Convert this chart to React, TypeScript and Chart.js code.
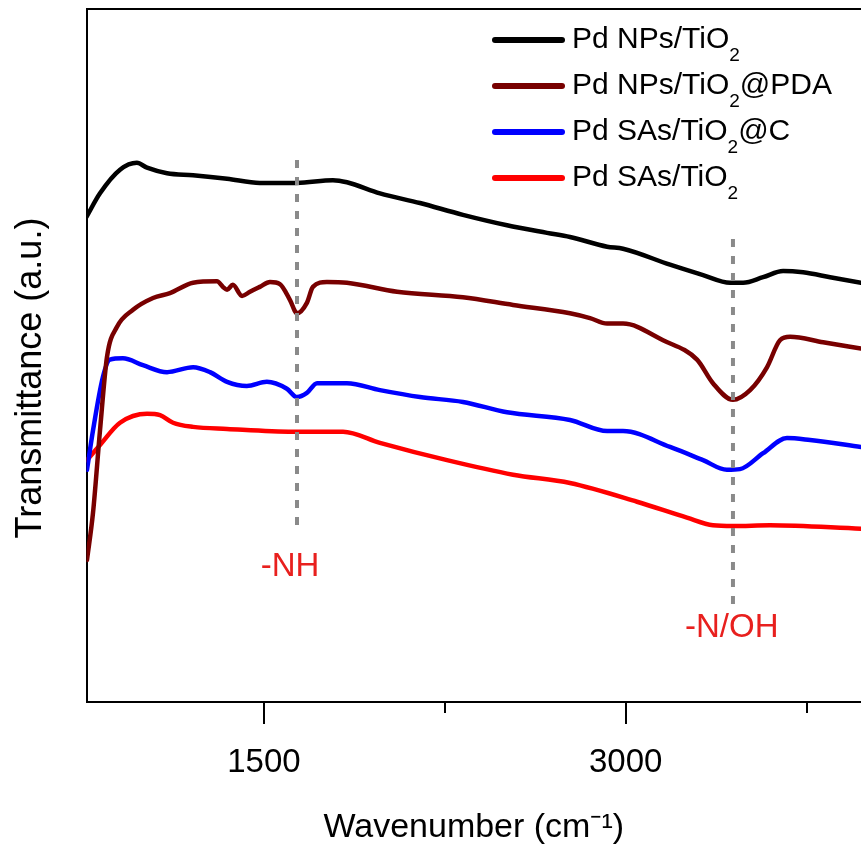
import React, { useEffect, useRef } from 'react';
import { Chart, registerables } from 'chart.js';

Chart.register(...registerables);

const FONT = "'Liberation Sans', Arial, sans-serif";

// Series labels and colours
const seriesLabels = ['Pd NPs/TiO₂', 'Pd NPs/TiO₂@PDA', 'Pd SAs/TiO₂@C', 'Pd SAs/TiO₂'];
const seriesColors = ['#000000', '#780000', '#0000ff', '#ff0000'];

// Pd NPs/TiO2 (black)
const npsWavenumber = [764, 820, 903, 973, 1015, 1098, 1206, 1347, 1483, 1637, 1786, 1844, 1981, 2147, 2325, 2508, 2674, 2769, 2923, 2989, 3184, 3321, 3433, 3487, 3570, 3653, 3736, 3848, 3976];
const npsTransmittance = [70.0, 73.4, 76.8, 77.8, 77.1, 76.3, 76.0, 75.5, 74.9, 74.9, 75.3, 75.0, 73.4, 72.0, 70.3, 68.8, 67.7, 67.1, 65.7, 65.4, 63.1, 61.6, 60.5, 60.5, 61.3, 62.2, 62.0, 61.3, 60.5];

// Pd NPs/TiO2@PDA (maroon)
const npsPdaWavenumber = [766, 791, 820, 849, 890, 957, 1040, 1110, 1206, 1305, 1330, 1347, 1371, 1409, 1442, 1483, 1525, 1566, 1608, 1637, 1678, 1703, 1761, 1844, 2052, 2325, 2533, 2769, 2852, 2923, 2989, 3155, 3296, 3362, 3445, 3516, 3586, 3640, 3682, 3819, 3976];
const npsPdaTransmittance = [20.5, 27.3, 39.2, 49.8, 54.1, 56.6, 58.3, 59.0, 60.5, 60.7, 59.9, 59.5, 60.2, 58.6, 59.2, 59.9, 60.6, 60.3, 58.0, 56.1, 57.6, 59.9, 60.6, 60.5, 59.2, 58.4, 57.3, 56.1, 55.4, 54.6, 54.6, 52.2, 49.4, 46.0, 43.6, 45.0, 48.3, 52.2, 52.7, 51.9, 51.0];

// Pd SAs/TiO2@C (blue)
const sasCWavenumber = [766, 791, 832, 861, 915, 998, 1098, 1206, 1276, 1347, 1429, 1512, 1595, 1637, 1678, 1720, 1844, 1981, 2147, 2325, 2508, 2769, 2923, 2989, 3184, 3321, 3420, 3474, 3570, 3669, 3765, 3976];
const sasCTransmittance = [33.5, 39.2, 46.9, 49.4, 49.6, 48.6, 47.6, 48.3, 47.6, 46.2, 45.6, 46.2, 45.2, 44.0, 44.6, 46.0, 46.0, 45.0, 44.0, 43.3, 41.8, 40.7, 39.1, 39.1, 36.8, 34.9, 33.5, 33.6, 35.9, 38.1, 37.8, 36.8];

// Pd SAs/TiO2 (red)
const sasWavenumber = [766, 820, 903, 1015, 1069, 1123, 1206, 1347, 1620, 1828, 1981, 2259, 2533, 2769, 3047, 3254, 3362, 3445, 3599, 3976];
const sasTransmittance = [34.9, 37.1, 40.3, 41.6, 41.4, 40.3, 39.7, 39.4, 39.0, 39.0, 37.4, 34.9, 32.8, 31.6, 28.9, 26.6, 25.5, 25.4, 25.5, 25.0];

// Marker (dashed) lines and their labels
const markerWavenumber = [1637, 3445];
const markerTop = [78.2, 66.8];
const markerBottom = [24.8, 14.0];
const markerLabels = ['-NH', '-N/OH'];
const markerLabelX = [1608, 3440];
const markerLabelY = [19.5, 10.7];

// Axes
const xMin = 764;
const xMax = 3976;
const xTickValues = [1500, 2250, 3000, 3750];
const xTickLabels = ['1500', '', '3000', ''];
const xTitle = 'Wavenumber (cm⁻¹)';
const yTitle = 'Transmittance (a.u.)';

function toPoints(xs: number[], ys: number[]) {
  return xs.map((x, i) => ({ x, y: ys[i] }));
}

function drawRich(ctx: CanvasRenderingContext2D, text: string, x: number, y: number, size: number) {
  let cx = x;
  const parts = text.split(/(₂)/);
  for (const p of parts) {
    if (!p) continue;
    if (p === '₂') {
      ctx.font = `${Math.round(size * 0.64)}px ${FONT}`;
      ctx.fillText('2', cx, y + size * 0.52);
      cx += ctx.measureText('2').width;
    } else {
      ctx.font = `${size}px ${FONT}`;
      ctx.fillText(p, cx, y);
      cx += ctx.measureText(p).width;
    }
  }
}

const decorPlugin = {
  id: 'decor',
  afterDraw(chart: any) {
    const ctx: CanvasRenderingContext2D = chart.ctx;
    const xs = chart.scales.x;
    const ys = chart.scales.y;
    const area = chart.chartArea;
    ctx.save();

    // tick marks (major labelled, minor unlabelled)
    ctx.strokeStyle = '#000';
    ctx.lineWidth = 2;
    xTickValues.forEach((v, i) => {
      const px = Math.round(xs.getPixelForValue(v));
      const len = xTickLabels[i] ? 22 : 11;
      ctx.beginPath();
      ctx.moveTo(px, area.bottom);
      ctx.lineTo(px, area.bottom + len);
      ctx.stroke();
    });

    // marker labels
    ctx.fillStyle = '#e8201e';
    ctx.font = `33px ${FONT}`;
    ctx.textAlign = 'center';
    ctx.textBaseline = 'middle';
    markerLabels.forEach((t, i) => {
      ctx.fillText(t, xs.getPixelForValue(markerLabelX[i]), ys.getPixelForValue(markerLabelY[i]));
    });

    // legend
    ctx.textAlign = 'left';
    ctx.fillStyle = '#000';
    const series = chart.data.datasets.filter((d: any) => !d.isMarker);
    series.forEach((d: any, i: number) => {
      const cy = 40 + i * 46;
      ctx.strokeStyle = d.borderColor;
      ctx.lineWidth = 6;
      ctx.lineCap = 'round';
      ctx.beginPath();
      ctx.moveTo(495, cy);
      ctx.lineTo(562, cy);
      ctx.stroke();
      ctx.fillStyle = '#000';
      drawRich(ctx, d.label, 572, cy, 30);
    });

    // y title
    ctx.save();
    ctx.translate(31, 378);
    ctx.rotate(-Math.PI / 2);
    ctx.textAlign = 'center';
    ctx.textBaseline = 'middle';
    ctx.fillStyle = '#000';
    ctx.font = `36px ${FONT}`;
    ctx.fillText(yTitle, 0, 0);
    ctx.restore();

    ctx.restore();
  },
};

export default function App() {
  const ref = useRef<HTMLCanvasElement | null>(null);

  useEffect(() => {
    if (!ref.current) return;
    const seriesX = [npsWavenumber, npsPdaWavenumber, sasCWavenumber, sasWavenumber];
    const seriesY = [npsTransmittance, npsPdaTransmittance, sasCTransmittance, sasTransmittance];
    const datasets: any[] = seriesLabels.map((label, i) => ({
      label,
      data: toPoints(seriesX[i], seriesY[i]),
      borderColor: seriesColors[i],
      backgroundColor: seriesColors[i],
      borderWidth: 4.5,
      pointRadius: 0,
      cubicInterpolationMode: 'monotone',
      borderJoinStyle: 'round',
      borderCapStyle: 'round',
      fill: false,
      order: 1,
    }));
    markerWavenumber.forEach((x, i) => {
      datasets.push({
        label: markerLabels[i],
        isMarker: true,
        data: [{ x, y: markerTop[i] }, { x, y: markerBottom[i] }],
        borderColor: '#8a8a8a',
        borderWidth: 4,
        borderDash: [8, 9],
        pointRadius: 0,
        fill: false,
        order: 0,
      });
    });

    const chart = new Chart(ref.current, {
      type: 'line',
      data: { datasets },
      plugins: [decorPlugin],
      options: {
        animation: false,
        responsive: false,
        layout: { padding: { top: 9, left: 0, right: 0, bottom: 0 } },
        plugins: { legend: { display: false }, tooltip: { enabled: false } },
        scales: {
          x: {
            type: 'linear',
            position: 'bottom',
            min: xMin,
            max: xMax,
            afterBuildTicks: (s: any) => {
              s.ticks = xTickValues.map((v) => ({ value: v }));
            },
            afterFit: (s: any) => {
              s.height = 146;
            },
            grid: { display: false },
            border: { display: true, color: '#000', width: 2 },
            ticks: {
              autoSkip: false,
              maxRotation: 0,
              padding: 33,
              color: '#000',
              font: { family: FONT, size: 33 },
              callback: (v: any) => {
                const idx = xTickValues.indexOf(Number(v));
                return idx >= 0 ? xTickLabels[idx] : '';
              },
            },
            title: {
              display: true,
              text: xTitle,
              color: '#000',
              font: { family: FONT, size: 34 },
              padding: { top: 0, bottom: 0 },
            },
          },
          xTop: {
            type: 'linear',
            position: 'top',
            min: xMin,
            max: xMax,
            afterFit: (s: any) => {
              s.height = 0;
            },
            grid: { display: false },
            border: { display: true, color: '#000', width: 2 },
            ticks: { display: false },
          },
          y: {
            type: 'linear',
            min: 0,
            max: 100,
            afterFit: (s: any) => {
              s.width = 86.5;
            },
            grid: { display: false },
            border: { display: true, color: '#000', width: 2 },
            ticks: { display: false },
          },
        },
      },
    });
    return () => chart.destroy();
  }, []);

  return (
    <div style={{ position: 'fixed', left: 0, top: 0, width: 861, height: 848, background: '#fff' }}>
      <canvas ref={ref} width={861} height={848} style={{ display: 'block' }} />
    </div>
  );
}
